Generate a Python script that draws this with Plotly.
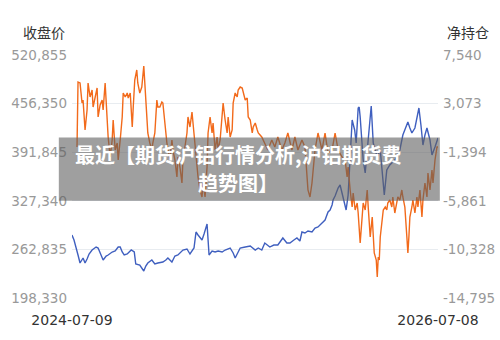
import plotly.graph_objects as go

# ---- data ----
close_dates = [
    "2024-07-09","2024-07-13","2024-07-21","2024-07-25","2024-07-31","2024-08-04","2024-08-08","2024-08-12",
    "2024-08-18","2024-08-26","2024-08-30","2024-09-03","2024-09-09","2024-09-15","2024-09-19","2024-09-27",
    "2024-10-03","2024-10-09","2024-10-13","2024-10-17","2024-10-21","2024-10-27","2024-11-04","2024-11-10",
    "2024-11-13","2024-11-21","2024-11-25","2024-11-29","2024-12-03","2024-12-07","2024-12-15","2024-12-21",
    "2024-12-27","2025-01-06","2025-01-12","2025-01-16","2025-01-24","2025-01-30","2025-02-05","2025-02-15",
    "2025-02-23","2025-03-01","2025-03-09","2025-03-13","2025-03-17","2025-03-21","2025-03-25","2025-03-29",
    "2025-04-02","2025-04-04","2025-04-08","2025-04-14","2025-04-20","2025-04-26","2025-05-04","2025-05-10",
    "2025-05-20","2025-05-26","2025-05-30","2025-06-05","2025-06-09","2025-06-19","2025-06-29","2025-07-09",
    "2025-07-15","2025-07-22","2025-07-28","2025-08-07","2025-08-15","2025-08-23","2025-09-02","2025-09-10",
    "2025-09-16","2025-09-24","2025-09-30","2025-10-06","2025-10-10","2025-10-16","2025-10-22","2025-10-30",
    "2025-11-05","2025-11-11","2025-11-15","2025-11-21","2025-11-25","2025-12-01","2025-12-05","2025-12-09",
    "2025-12-11","2025-12-15","2025-12-21","2025-12-25","2025-12-31","2026-01-06","2026-01-10","2026-01-14",
    "2026-01-18","2026-01-23","2026-01-26","2026-01-30","2026-02-01","2026-02-03","2026-02-07","2026-02-09",
    "2026-02-13","2026-02-17","2026-02-19","2026-02-23","2026-02-25","2026-03-01","2026-03-05","2026-03-09",
    "2026-03-15","2026-03-19","2026-03-23","2026-03-25","2026-03-28","2026-04-03","2026-04-09","2026-04-13",
    "2026-04-19","2026-04-23","2026-04-29","2026-05-03","2026-05-09","2026-05-13","2026-05-17","2026-05-23",
    "2026-05-27","2026-05-31","2026-06-04","2026-06-08","2026-06-12","2026-06-16","2026-06-22","2026-06-26",
    "2026-07-02","2026-07-08",
]
close_values = [
    281941,275304,255395,244777,251413,244777,250086,256722,
    262031,266013,264686,258050,248758,254068,255395,259377,
    260704,266013,266013,259377,255395,256722,262031,259377,
    243449,242122,238140,234158,240795,244777,248758,243449,
    244777,246104,248758,251413,246104,254068,255395,262031,
    263359,256722,264686,285923,281941,277959,275304,283268,
    293887,296541,255395,260704,259377,260704,259377,262031,
    264686,258050,251413,259377,264686,266013,267341,262031,
    264686,262031,271323,266013,268668,268668,277959,271323,
    271323,275304,277959,273977,285923,284596,287250,285923,
    291232,292559,295214,299196,301850,312469,315123,321760,
    328396,333706,344324,348306,332378,315123,335033,394761,
    434580,421307,404053,450508,451835,438562,394761,381488,
    364234,394761,412016,447853,453163,404053,394761,385470,
    394761,361579,335033,348306,368215,374852,378834,381488,
    388125,394761,414671,421307,431926,423962,417326,423962,
    437235,450508,427944,401398,414671,423962,408034,388125,
    398743,410689,
]

net_dates = [
    "2024-07-19","2024-07-21","2024-07-25","2024-07-29","2024-07-31","2024-08-04","2024-08-08","2024-08-10",
    "2024-08-14","2024-08-18","2024-08-20","2024-08-24","2024-08-28","2024-08-30","2024-09-03","2024-09-07",
    "2024-09-09","2024-09-13","2024-09-17","2024-09-19","2024-09-23","2024-09-27","2024-09-29","2024-10-03",
    "2024-10-07","2024-10-09","2024-10-13","2024-10-17","2024-10-19","2024-10-23","2024-10-27","2024-10-29",
    "2024-11-02","2024-11-06","2024-11-08","2024-11-11","2024-11-15","2024-11-17","2024-11-21","2024-11-25",
    "2024-11-29","2024-12-01","2024-12-05","2024-12-07","2024-12-11","2024-12-15","2024-12-17","2024-12-21",
    "2024-12-25","2024-12-27","2024-12-31","2025-01-04","2025-01-06","2025-01-10","2025-01-14","2025-01-20",
    "2025-01-24","2025-01-26","2025-01-30","2025-02-03","2025-02-05","2025-02-09","2025-02-13","2025-02-15",
    "2025-02-23","2025-02-25","2025-03-01","2025-03-05","2025-03-07","2025-03-11","2025-03-15","2025-03-17",
    "2025-03-21","2025-03-25","2025-03-27","2025-03-31","2025-04-04","2025-04-06","2025-04-10","2025-04-14",
    "2025-04-16","2025-04-20","2025-04-24","2025-04-26","2025-04-30","2025-05-04","2025-05-06","2025-05-10",
    "2025-05-14","2025-05-16","2025-05-20","2025-05-24","2025-05-26","2025-05-30","2025-06-03","2025-06-05",
    "2025-06-09","2025-06-13","2025-06-15","2025-06-19","2025-06-23","2025-06-25","2025-06-29","2025-07-03",
    "2025-07-05","2025-07-09","2025-07-13","2025-07-15","2025-07-22","2025-07-28","2025-08-03","2025-08-11",
    "2025-08-17","2025-08-23","2025-08-31","2025-09-06","2025-09-12","2025-09-20","2025-09-26","2025-10-02",
    "2025-10-10","2025-10-16","2025-10-20","2025-10-22","2025-10-26","2025-10-30","2025-11-05","2025-11-11",
    "2025-11-19","2025-11-25","2025-12-01","2025-12-09","2025-12-15","2025-12-21","2025-12-29","2026-01-04",
    "2026-01-08","2026-01-10","2026-01-14","2026-01-18","2026-01-20","2026-01-24","2026-01-28","2026-01-30",
    "2026-02-03","2026-02-07","2026-02-09","2026-02-13","2026-02-17","2026-02-19","2026-02-23","2026-02-27",
    "2026-03-01","2026-03-03","2026-03-07","2026-03-09","2026-03-11","2026-03-13","2026-03-15","2026-03-19",
    "2026-03-21","2026-03-25","2026-03-28","2026-03-30","2026-04-03","2026-04-07","2026-04-09","2026-04-13",
    "2026-04-17","2026-04-19","2026-04-23","2026-04-27","2026-04-29","2026-05-03","2026-05-07","2026-05-09",
    "2026-05-11","2026-05-13","2026-05-17","2026-05-19","2026-05-23","2026-05-27","2026-05-29","2026-06-02",
    "2026-06-06","2026-06-08","2026-06-12","2026-06-16","2026-06-18","2026-06-22","2026-06-26","2026-06-28",
    "2026-07-02","2026-07-06","2026-07-08",
]
net_values = [
    -916,5058,4967,3128,3404,647,2485,4967,
    3680,4323,2761,3680,4507,1842,2944,3404,
    2485,4967,1842,3,-1835,-272,1566,-1191,
    -548,-2111,-272,1842,4047,3680,4047,3588,
    4047,922,2761,5242,6161,4967,4047,4599,
    6529,4967,1842,371,-548,-1191,-548,371,
    3404,2761,2761,3220,3128,922,-548,-2111,
    -272,-1191,-2111,-3673,-1835,-2754,-4224,-2111,
    371,1842,922,2301,1290,-548,-2111,-3673,
    -4868,-5511,-4224,-5511,-2754,371,1842,371,
    1290,-1191,3,-1191,-272,1566,3128,1566,
    371,1842,3,647,3128,4047,3680,4323,
    4599,4507,4047,3404,3588,1842,1566,371,
    922,1290,647,371,3,-548,-1191,-272,
    -916,3,-1191,-548,371,-1191,3,-1191,
    -272,-916,-3673,-4868,-5511,-4224,-1191,371,
    -1191,371,-1467,-1191,371,-1191,-1835,-2111,
    -3673,-2754,-4868,-6430,-5144,-6706,-6063,-6982,
    -9739,-7349,-6063,-6706,-4868,-6430,-9188,-7349,
    -9188,-10658,-11302,-12864,-11026,-11302,-9188,-7349,
    -6706,-6430,-6706,-6063,-5787,-6430,-5511,-6982,
    -6063,-5511,-5787,-4868,-5511,-6430,-9188,-10658,
    -9188,-7349,-6430,-5787,-6982,-5511,-6430,-4868,
    -7349,-5787,-4224,-5511,-3305,-4868,-3030,-4224,
    -2111,-916,-916,
]

left_ticks = [198330, 262835, 327340, 391845, 456350, 520855]
right_ticks = [-14795, -10328, -5861, -1394, 3073, 7540]
x_tick_labels = ["2024-07-09", "2026-07-08"]
left_title = "收盘价"
right_title = "净持仓"
banner_lines = ["最近【期货沪铝行情分析,沪铝期货费", "趋势图】"]

FONT = "DejaVu Sans, Noto Sans CJK SC, sans-serif"
CJK = "Noto Sans CJK SC, sans-serif"

fig = go.Figure()
fig.add_trace(go.Scatter(x=close_dates, y=close_values, mode="lines",
                         line=dict(color="#3f5fbf", width=1.4), yaxis="y", name=left_title))
fig.add_trace(go.Scatter(x=net_dates, y=net_values, mode="lines",
                         line=dict(color="#f26a1b", width=1.4), yaxis="y2", name=right_title))

fig.update_layout(
    width=500, height=340,
    margin=dict(l=72, r=62, t=55, b=42, autoexpand=False),
    paper_bgcolor="white", plot_bgcolor="white",
    showlegend=False,
    font=dict(family=FONT),
    xaxis=dict(
        type="date", automargin=False,
        range=[x_tick_labels[0], x_tick_labels[1]],
        tickmode="array", tickvals=x_tick_labels, ticktext=x_tick_labels,
        tickfont=dict(size=14, color="#333333"),
        ticklabelstandoff=12,
        showgrid=False, showline=False, zeroline=False, ticks="",
    ),
    yaxis=dict(
        automargin=False,
        range=[left_ticks[0], left_ticks[-1]],
        tickmode="array", tickvals=left_ticks,
        ticktext=[f"{v:,}" for v in left_ticks],
        tickfont=dict(size=13.5, color="#999999"),
        ticklabelstandoff=4,
        showgrid=True, gridcolor="#e8ecf0", gridwidth=1,
        zeroline=False, showline=False, ticks="",
    ),
    yaxis2=dict(
        automargin=False,
        range=[right_ticks[0], right_ticks[-1]],
        overlaying="y", side="right",
        tickmode="array", tickvals=right_ticks,
        ticktext=[f"{v:,}" for v in right_ticks],
        tickfont=dict(size=13.5, color="#999999"),
        ticklabelstandoff=4,
        showgrid=False, zeroline=False, showline=False, ticks="",
    ),
)

fig.add_annotation(text=left_title, xref="paper", yref="paper", x=-0.015, y=1.0,
                   xanchor="right", yanchor="bottom", yshift=11, showarrow=False,
                   font=dict(family=CJK, size=14, color="#333333"))
fig.add_annotation(text=right_title, xref="paper", yref="paper", x=1.02, y=1.0,
                   xanchor="left", yanchor="bottom", yshift=11, showarrow=False,
                   font=dict(family=CJK, size=14, color="#333333"))

# grey banner with title text
fig.add_shape(type="rect", xref="paper", yref="paper",
              x0=-0.036, x1=1.005, y0=0.4, y1=0.66,
              fillcolor="rgba(95,95,95,0.6)", line=dict(width=0), layer="above")
for txt, ypos in zip(banner_lines, [0.59, 0.475]):
    fig.add_annotation(text="<b>" + txt + "</b>", xref="paper", yref="paper",
                       x=0.454, y=ypos, xanchor="center", yanchor="middle", showarrow=False,
                       font=dict(family=CJK, size=20, color="white"))

fig.write_html("out.html")
